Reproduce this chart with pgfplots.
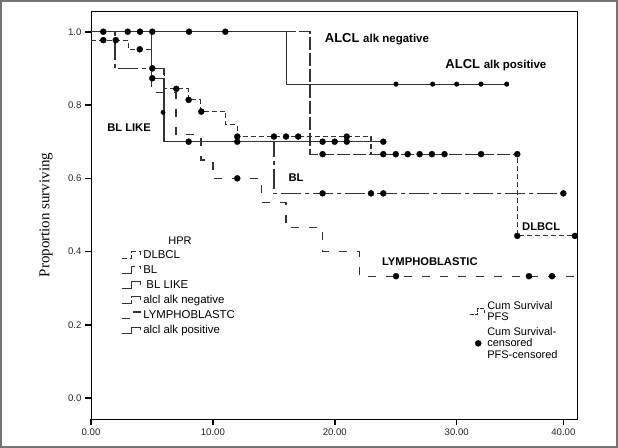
\documentclass[border=0pt]{standalone}
\usepackage{pgfplots}
\pgfplotsset{compat=1.18}
\usepackage{fontspec}
\setmainfont{Liberation Sans}
\newfontfamily\seriffam{Liberation Serif}

\pgfplotsset{
  stepicon/.style={legend image code/.code={\draw[##1] (0bp,-3.2bp) -- (10bp,-3.2bp) -- (10bp,3.2bp) -- (19bp,3.2bp) -- (19bp,0bp);}},
  pfsicon/.style={legend image code/.code={\draw[##1] (0bp,-3bp) -- (8bp,-3bp) -- (8bp,3bp) -- (15bp,3bp) -- (15bp,-1.5bp);}},
  kmline/.style={black!80, line width=1.1bp},
  cens/.style={only marks, mark=*, mark size=3bp, black, forget plot},
}

\begin{document}
\begin{tikzpicture}
\useasboundingbox (0,0) rectangle (618bp,448bp);
\draw[black!55, line width=1.2bp] (1bp,1bp) rectangle (617bp,447bp);
\begin{axis}[
  at={(91bp,29bp)}, anchor=south west,
  scale only axis, width=486bp, height=408bp,
  xmin=0, xmax=39.87, ymin=-0.0565, ymax=1.0565,
  axis line style={black, line width=0.9bp},
  xtick={0,10,20,30,38.75}, xticklabels={0.00,10.00,20.00,30.00,40.00},
  ytick={0,0.2,0.4,0.6,0.8,1.0}, yticklabels={0.0,0.2,0.4,0.6,0.8,1.0},
  tick align=outside, xtick pos=left, ytick pos=left,
  major tick length=6bp,
  tick style={black, line width=1.6bp},
  ticklabel style={font=\fontsize{9.6bp}{11bp}\selectfont, text=black!85},
  ylabel={Proportion surviving},
  ylabel style={font=\seriffam\fontsize{15bp}{17bp}\selectfont, at={(axis description cs:-0.0926,0.5)}, anchor=center},
  legend style={at={(axis description cs:0.0617,0.4190)}, anchor=north west, draw=none, fill=none,
    font=\fontsize{11.4bp}{13bp}\selectfont, row sep=1.6bp, inner sep=0bp},
  legend cell align=left,
  clip=false,
]
% DLBCL
\addplot[kmline, dash pattern=on 5bp off 3bp, stepicon] coordinates {
(0,0.977) (3.04,0.977) (3.04,0.952) (5.0,0.952) (5.0,0.90) (6.0,0.90) (6.0,0.844) (8.0,0.844) (8.0,0.814) (8.95,0.814) (8.95,0.782) (11.05,0.782) (11.05,0.746) (12.0,0.746) (12.0,0.714) (22.97,0.714) (22.97,0.666) (35.0,0.666) (35.0,0.443) (39.87,0.443)};
\addlegendentry{DLBCL}
% BL
\addplot[kmline, dash pattern=on 20bp off 4bp on 4bp off 4bp, stepicon] coordinates {
(0,1) (1.97,1) (1.97,0.90) (5.99,0.90) (5.99,0.70) (15.01,0.70) (15.01,0.559) (38.75,0.559)};
\addlegendentry{BL}
% BL LIKE
\addplot[kmline, stepicon] coordinates {
(0,1) (5.0,1) (5.0,0.873) (5.99,0.873) (5.99,0.70) (23.98,0.70)};
\addlegendentry{\ BL LIKE}
% alcl alk negative
\addplot[kmline, dash pattern=on 13bp off 3bp, stepicon] coordinates {
(0,1) (17.97,1) (17.97,0.666) (35.0,0.666)};
\addlegendentry{alcl alk negative}
% LYMPHOBLASTIC
\addplot[kmline, dash pattern=on 8bp off 10bp, stepicon] coordinates {
(0,1) (5.0,1) (5.0,0.834) (6.97,0.834) (6.97,0.72) (9.02,0.72) (9.02,0.65) (10.01,0.65) (10.01,0.60) (14.0,0.60) (14.0,0.534) (16.0,0.534) (16.0,0.465) (18.97,0.465) (18.97,0.40) (22.01,0.40) (22.01,0.333) (39.87,0.333)};
\addlegendentry{LYMPHOBLASTC}
% alcl alk positive
\addplot[kmline, stepicon] coordinates {
(0,1) (16.05,1) (16.05,0.857) (34.1,0.857)};
\addlegendentry{alcl alk positive}

% censored marks
\addplot[cens] coordinates {
(1.01,0.977) (2.03,0.977) (4.0,0.952) (5.03,0.90) (7.0,0.844) (8.01,0.814) (9.05,0.782) (12.0,0.714) (15.01,0.714) (16.0,0.714) (17.0,0.714) (20.98,0.714)
(23.98,0.666) (25.0,0.666) (25.98,0.666) (26.96,0.666) (27.97,0.666) (29.0,0.666) (32.0,0.666) (34.97,0.666) (34.97,0.443) (39.7,0.443)};
\addplot[cens] coordinates {(19.0,0.559) (22.97,0.559) (23.98,0.559) (38.75,0.559)};
\addplot[cens, mark size=2.2bp] coordinates {(5.91,0.78)};
\addplot[cens] coordinates {(5.03,0.873) (8.01,0.70) (12.0,0.70) (19.0,0.70) (19.99,0.70) (20.98,0.70) (23.98,0.70)};
\addplot[cens] coordinates {(19.0,0.666)};
\addplot[cens] coordinates {(12.0,0.60) (25.02,0.333) (35.93,0.333) (37.82,0.333)};
\addplot[cens, mark size=2.3bp] coordinates {(25.02,0.857) (28.03,0.857) (30.0,0.857) (31.99,0.857) (34.1,0.857)};
\addplot[cens] coordinates {(1.01,1) (3.01,1) (4.02,1) (5.03,1) (8.04,1) (11.02,1)};

% labels
\node[font=\bfseries\fontsize{13bp}{15bp}\selectfont] at (axis cs:23.46,0.980) {ALCL {\fontsize{11.5bp}{13bp}\selectfont alk negative}};
\node[font=\bfseries\fontsize{13bp}{15bp}\selectfont] at (axis cs:33.22,0.909) {ALCL {\fontsize{11.5bp}{13bp}\selectfont alk positive}};
\node[font=\bfseries\fontsize{11.2bp}{13bp}\selectfont] at (axis cs:3.12,0.737) {BL LIKE};
\node[font=\bfseries\fontsize{11.2bp}{13bp}\selectfont] at (axis cs:16.82,0.601) {BL};
\node[font=\bfseries\fontsize{11.2bp}{13bp}\selectfont] at (axis cs:36.93,0.467) {DLBCL};
\node[font=\bfseries\fontsize{11.2bp}{13bp}\selectfont] at (axis cs:27.8,0.372) {LYMPHOBLASTIC};
\node[font=\fontsize{11bp}{13bp}\selectfont] at (axis cs:7.3,0.429) {HPR};
\end{axis}

% second legend
\begin{axis}[
  at={(91bp,29bp)}, anchor=south west,
  scale only axis, width=486bp, height=408bp,
  xmin=0, xmax=1, ymin=0, ymax=1, hide axis,
  legend style={at={(axis description cs:0.7716,0.299)}, anchor=north west, draw=none, fill=none,
    font=\fontsize{11bp}{11.5bp}\selectfont, cells={align=left}, row sep=1bp},
  legend cell align=left,
]
\addlegendimage{black!80, line width=1.1bp, dash pattern=on 4bp off 1.5bp, pfsicon}
\addlegendentry{Cum Survival\\PFS}
\addlegendimage{only marks, mark=*, mark size=3bp, black}
\addlegendentry{Cum Survival-\\censored\\PFS-censored}
\end{axis}
\end{tikzpicture}
\end{document}
